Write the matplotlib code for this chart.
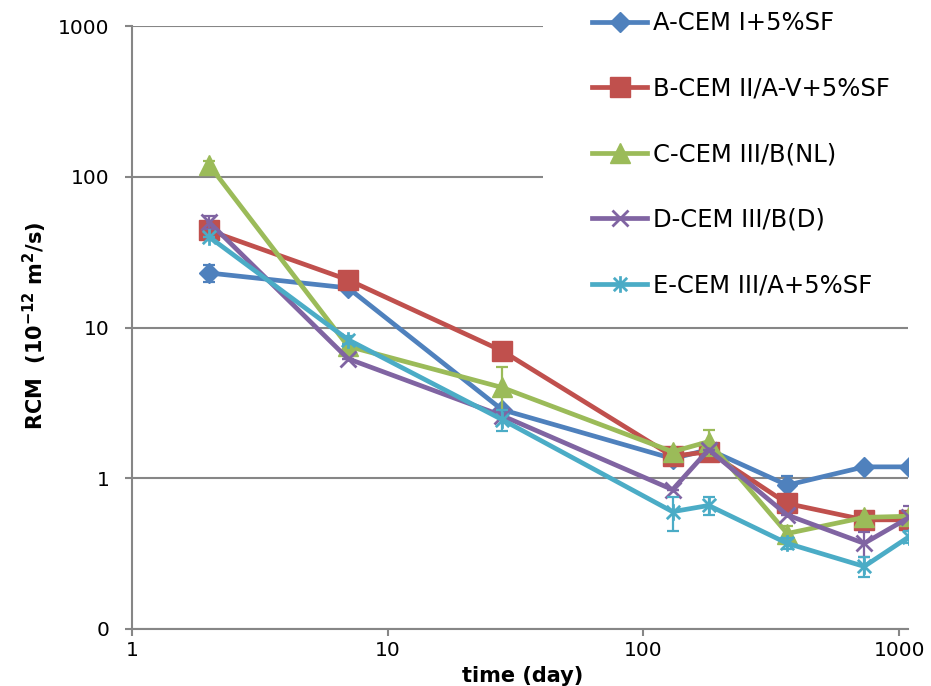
import matplotlib
matplotlib.use("Agg")
import matplotlib.pyplot as plt
from matplotlib.path import Path
from matplotlib.patches import Rectangle

plt.rcParams['font.family'] = ['DejaVu Sans']
plt.rcParams['mathtext.fontset'] = 'dejavusans'

# data
days = [2, 7, 28, 130, 180, 365, 730, 1095]

labels = ['A-CEM I+5%SF', 'B-CEM II/A-V+5%SF', 'C-CEM III/B(NL)',
          'D-CEM III/B(D)', 'E-CEM III/A+5%SF']

rcm_a = [23, 18.3, 2.85, 1.35, 1.55, 0.90, 1.19, 1.19]
rcm_b = [44, 20.7, 7.0, 1.40, 1.50, 0.68, 0.53, 0.53]
rcm_c = [120, 7.5, 4.0, 1.50, 1.75, 0.43, 0.55, 0.56]
rcm_d = [50, 6.2, 2.6, 0.84, 1.55, 0.57, 0.37, 0.55]
rcm_e = [40, 8.3, 2.45, 0.60, 0.66, 0.37, 0.26, 0.41]

err_a = [3, 0, 0, 0, 0, 0.13, 0, 0]
err_b = [0, 0, 0, 0, 0, 0, 0, 0]
err_c = [8, 0, 1.5, 0, 0.35, 0.05, 0, 0]
err_d = [5, 0, 0, 0, 0, 0, 0.07, 0.1]
err_e = [0, 0.5, 0.4, 0.15, 0.09, 0.03, 0.04, 0.04]

y_ticks = [0.1, 1, 10, 100, 1000]
y_tick_labels = ['0', '1', '10', '100', '1000']
x_ticks = [1, 10, 100, 1000]
x_tick_labels = ['1', '10', '100', '1000']

colors = ['#4F81BD', '#C0504D', '#9BBB59', '#8064A2', '#4BACC6']
grey = '#868686'

# excel-style asterisk: X plus a vertical bar
star = Path([(-1, -1), (1, 1), (-1, 1), (1, -1), (0, -1.25), (0, 1.25)],
            [Path.MOVETO, Path.LINETO] * 3)

styles = [
    dict(marker='D', markersize=10, markeredgewidth=1),
    dict(marker='s', markersize=14, markeredgewidth=1),
    dict(marker='^', markersize=14, markeredgewidth=1),
    dict(marker='x', markersize=11, markeredgewidth=2),
    dict(marker=star, markersize=12, markeredgewidth=2),
]

fig = plt.figure(figsize=(9.31, 6.86), dpi=100)
W, H = 931, 686
ax = fig.add_axes([132 / W, 1 - 629 / H, (908 - 132) / W, (629 - 26) / H])

series = [rcm_a, rcm_b, rcm_c, rcm_d, rcm_e]
errors = [err_a, err_b, err_c, err_d, err_e]
for i, (vals, errs, lab) in enumerate(zip(series, errors, labels)):
    ax.errorbar(days, vals, yerr=errs, fmt='none', ecolor=colors[i],
                elinewidth=1.6, capsize=4.5, capthick=1.6, zorder=3 + i)
    ax.plot(days, vals, color=colors[i], linewidth=3.4, label=lab,
            markerfacecolor=colors[i], markeredgecolor=colors[i],
            zorder=3 + i, **styles[i])

ax.set_xscale('log')
ax.set_yscale('log')
ax.set_xlim(1, 1083)
ax.set_ylim(0.1, 1000)
ax.set_xticks(x_ticks)
ax.set_xticklabels(x_tick_labels)
ax.set_yticks(y_ticks)
ax.set_yticklabels(y_tick_labels)
ax.minorticks_off()

ax.set_axisbelow(True)
ax.yaxis.grid(True, color=grey, linewidth=1.5)
ax.xaxis.grid(False)
for side in ['top', 'right']:
    ax.spines[side].set_visible(False)
for side in ['left', 'bottom']:
    ax.spines[side].set_color(grey)
    ax.spines[side].set_linewidth(1.5)
ax.tick_params(axis='both', which='major', colors=grey, width=1.5, length=5,
               labelsize=14.5, labelcolor='black')
ax.tick_params(axis='y', pad=11)
ax.tick_params(axis='x', pad=4)

# white box behind the legend hides the grid there
ax.add_patch(Rectangle((543 / W, 1 - 310 / H), (W - 543) / W, 310 / H,
                       transform=fig.transFigure, facecolor='white',
                       edgecolor='none', zorder=1, clip_on=False))

fig.legend(loc='upper left', bbox_to_anchor=(581 / W, 1.0), frameon=False,
           fontsize=17.5, handlelength=2.25, handletextpad=0.25,
           labelspacing=1.71, borderpad=0.46, borderaxespad=0)

fig.text(523 / W, 1 - 682 / H, 'time (day)', ha='center', va='baseline',
         fontsize=15, fontweight='bold')
fig.text(35 / W, 1 - 326 / H, r'RCM  (10$^{\mathbf{-12}}$ m$^{\mathbf{2}}$/s)',
         rotation=90, ha='center', va='center', fontsize=15, fontweight='bold')

fig.savefig('out.png', dpi=100)
